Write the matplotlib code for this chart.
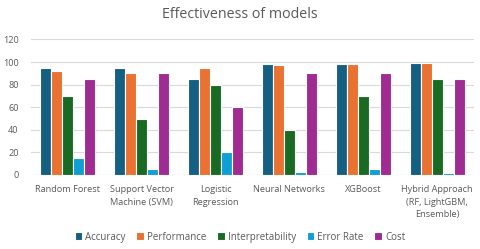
import matplotlib
matplotlib.use("Agg")
import matplotlib.pyplot as plt
import numpy as np

categories = ["Random Forest", "Support Vector\nMachine (SVM)", "Logistic\nRegression",
              "Neural Networks", "XGBoost", "Hybrid Approach\n(RF, LightGBM,\nEnsemble)"]
series_names = ["Accuracy", "Performance", "Interpretability", "Error Rate", "Cost"]
accuracy = [95, 95, 85, 98, 98, 99]
performance = [92, 90, 95, 97, 98, 99]
interpretability = [70, 50, 80, 40, 70, 85]
error_rate = [15, 5, 20, 3, 5, 2]
cost = [85, 90, 60, 90, 90, 85]
colors = ["#156082", "#E97132", "#196B24", "#0F9ED5", "#A02B93"]
yticks = [0, 20, 40, 60, 80, 100, 120]

plt.rcParams['font.family'] = ['Open Sans', 'DejaVu Sans']
fig = plt.figure(figsize=(4.8, 2.49), dpi=100)
ax = fig.add_axes([31/480, 1-175/249, 443/480, (175-39.4)/249])
x = np.arange(len(categories))
data = [accuracy, performance, interpretability, error_rate, cost]
pitch = 0.149
for i, (name, vals, c) in enumerate(zip(series_names, data, colors)):
    ax.bar(x + (i-2)*pitch, vals, width=pitch, color=c, edgecolor="white",
           linewidth=0.8, label=name, zorder=3)
ax.set_xlim(-0.5, 5.5)
ax.set_ylim(0, 120)
ax.set_yticks(yticks)
ax.set_xticks(x)
ax.set_xticklabels(categories, fontsize=6.6, color="#595959", linespacing=1.55)
ax.tick_params(axis='y', labelsize=6.6, labelcolor="#595959", length=0, pad=9)
ax.tick_params(axis='x', length=0, pad=7)
ax.grid(axis='y', color="#D9D9D9", linewidth=0.8, zorder=0)
for s in ax.spines.values():
    s.set_visible(False)
ax.axhline(0, color="#D9D9D9", linewidth=0.8, zorder=2)
fig.text(0.5, 1-15/249, "Effectiveness of models", ha="center", va="center",
         fontsize=10.3, color="#595959")
fig.legend(loc="center", bbox_to_anchor=(0.5, 1-237/249), ncol=5, frameon=False,
           fontsize=7, handlelength=0.8, handleheight=0.8, handletextpad=0.3,
           columnspacing=1.1, labelcolor="#595959")
fig.savefig("out.png", dpi=100)
